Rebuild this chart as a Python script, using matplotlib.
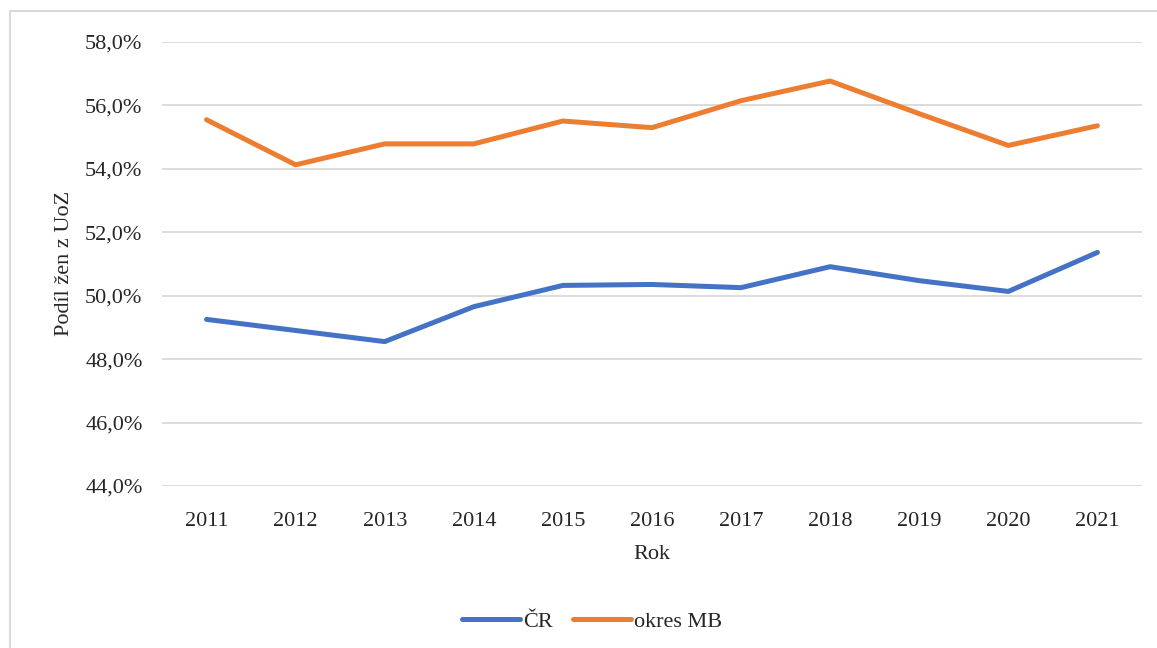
#!/usr/bin/python3
# coding: utf-8

'''
Podíl žen z UoZ, ČR vs. okres MB, 2011-2021
'''

import matplotlib
matplotlib.use('Agg')
import matplotlib.pyplot as plt
from matplotlib.patches import Rectangle
from matplotlib.ticker import FuncFormatter

years = ['2011', '2012', '2013', '2014', '2015', '2016',
         '2017', '2018', '2019', '2020', '2021']
share_cr = [49.25, 48.9, 48.55, 49.65, 50.32, 50.35,
            50.25, 50.91, 50.47, 50.13, 51.36]
share_mb = [55.54, 54.12, 54.78, 54.78, 55.5, 55.29,
            56.14, 56.76, 55.73, 54.73, 55.35]

BLUE = '#4472C4'
ORANGE = '#ED7D31'
GRID = '#D9D9D9'
TEXT = '#262626'
FS = 16

plt.rcParams['font.family'] = ['Liberation Serif', 'DejaVu Serif']

fig = plt.figure(figsize=(11.57, 6.48), dpi=100)

## Outer chart frame (cropped on the right and bottom)
fig.patches.append(Rectangle((10 / 1157, -0.1), 1.2, 0.983 + 0.1,
                             transform=fig.transFigure, fill=False,
                             edgecolor=GRID, linewidth=1.5))

ax = fig.add_axes([0.140, 0.25, 0.847, 0.6857])
xs = list(range(len(years)))
ax.plot(xs, share_cr, color=BLUE, linewidth=3.6, solid_capstyle='round', label='ČR')
ax.plot(xs, share_mb, color=ORANGE, linewidth=3.6, solid_capstyle='round', label='okres MB')

ax.set_xlim(-0.5, len(years) - 0.5)
ax.set_ylim(44, 58)
ax.set_yticks(range(44, 59, 2))
ax.yaxis.set_major_formatter(FuncFormatter(lambda v, p: '{0:.1f}%'.format(v).replace('.', ',')))
ax.set_xticks(xs)
ax.set_xticklabels(years)

ax.grid(axis='y', color=GRID, linewidth=1.3)
ax.set_axisbelow(True)
for s in ax.spines.values():
    s.set_visible(False)
ax.tick_params(length=0, labelsize=FS, colors=TEXT)
ax.tick_params(axis='x', pad=19)
ax.tick_params(axis='y', pad=14)

ax.set_xlabel('Rok', fontsize=FS, color=TEXT, labelpad=10)
ax.set_ylabel('Podíl žen z UoZ', fontsize=FS, color=TEXT, labelpad=8)

ax.legend(loc='center', bbox_to_anchor=(0.439, -0.305), ncol=2, frameon=False,
          fontsize=FS, handlelength=2.6, handletextpad=0.15, columnspacing=0.9,
          labelcolor=TEXT)

fig.savefig('out.png', dpi=100)
